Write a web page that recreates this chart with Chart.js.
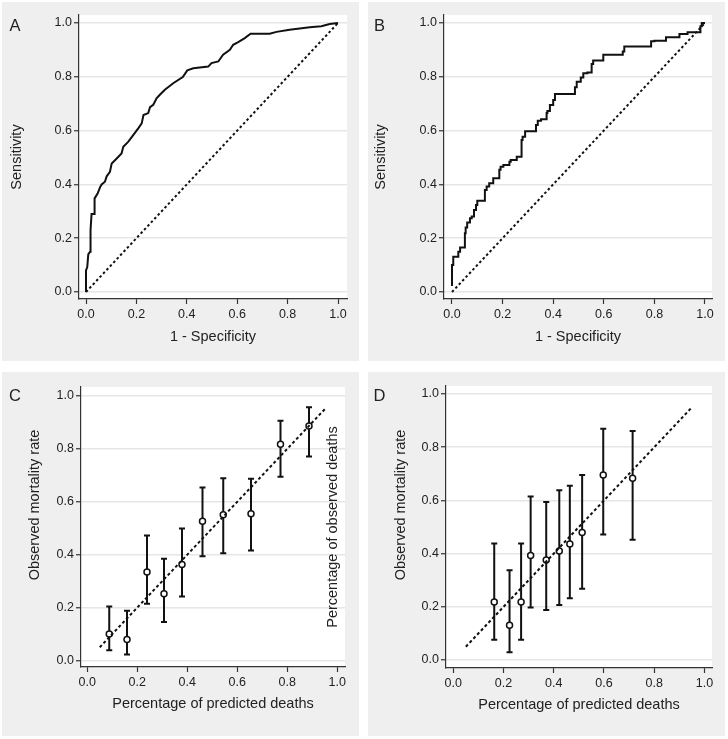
<!DOCTYPE html>
<html>
<head>
<meta charset="utf-8">
<script src="https://cdn.jsdelivr.net/npm/chart.js@4"></script>
<style>
  body { margin: 0; background: #fff; width: 728px; height: 739px; position: relative; overflow: hidden; }
  canvas { position: absolute; background: #efefef; }
</style>
</head>
<body>
<canvas id="panelA" width="357" height="359" style="left:2px;top:2px"></canvas>
<canvas id="panelB" width="357" height="359" style="left:368px;top:2px"></canvas>
<canvas id="panelC" width="357" height="364" style="left:2px;top:372px"></canvas>
<canvas id="panelD" width="357" height="364" style="left:368px;top:372px"></canvas>
<script>
const tickValues = [0, 0.2, 0.4, 0.6, 0.8, 1.0];

// ROC curve A (1 - specificity, sensitivity)
const rocAx = [0, 0, 0.005, 0.009, 0.016, 0.018, 0.022, 0.033, 0.034, 0.046, 0.056, 0.062, 0.075, 0.082, 0.095, 0.102, 0.115, 0.141, 0.148, 0.168, 0.188, 0.208, 0.221, 0.228, 0.247, 0.254, 0.267, 0.28, 0.293, 0.313, 0.346, 0.384, 0.402, 0.426, 0.485, 0.498, 0.525, 0.544, 0.571, 0.584, 0.604, 0.63, 0.653, 0.729, 0.756, 0.808, 0.888, 0.934, 0.967, 1.0];
const rocAy = [0, 0.08, 0.093, 0.14, 0.15, 0.23, 0.29, 0.29, 0.348, 0.366, 0.39, 0.40, 0.41, 0.43, 0.447, 0.478, 0.49, 0.515, 0.54, 0.559, 0.584, 0.609, 0.627, 0.658, 0.665, 0.687, 0.696, 0.72, 0.733, 0.752, 0.776, 0.799, 0.824, 0.832, 0.838, 0.851, 0.857, 0.882, 0.9, 0.919, 0.929, 0.944, 0.96, 0.96, 0.967, 0.975, 0.984, 0.988, 0.996, 1.0];

// ROC curve B
const rocBx = [0, 0, 0.005, 0.005, 0.025, 0.032, 0.035, 0.051, 0.054, 0.06, 0.071, 0.078, 0.087, 0.095, 0.1, 0.104, 0.13, 0.137, 0.147, 0.15, 0.163, 0.166, 0.187, 0.192, 0.203, 0.227, 0.232, 0.256, 0.258, 0.275, 0.279, 0.289, 0.308, 0.332, 0.339, 0.352, 0.374, 0.377, 0.387, 0.4, 0.407, 0.416, 0.486, 0.493, 0.509, 0.519, 0.535, 0.552, 0.558, 0.572, 0.598, 0.607, 0.675, 0.681, 0.7, 0.787, 0.8, 0.846, 0.859, 0.899, 0.931, 0.971, 0.982, 0.987, 1];
const rocBy = [0.022, 0.1, 0.1, 0.131, 0.131, 0.15, 0.165, 0.165, 0.218, 0.24, 0.258, 0.274, 0.281, 0.305, 0.323, 0.339, 0.339, 0.379, 0.392, 0.404, 0.404, 0.423, 0.423, 0.454, 0.466, 0.472, 0.484, 0.491, 0.503, 0.503, 0.565, 0.577, 0.598, 0.598, 0.621, 0.637, 0.642, 0.665, 0.673, 0.695, 0.714, 0.736, 0.736, 0.761, 0.782, 0.797, 0.813, 0.816, 0.848, 0.861, 0.861, 0.882, 0.882, 0.894, 0.913, 0.913, 0.932, 0.934, 0.947, 0.947, 0.959, 0.966, 0.966, 0.988, 1];

// chance line for ROC, reference line for calibration
const diagX = [0, 1];
const diagY = [0, 1];
const refX = [0.05, 0.95];
const refY = [0.05, 0.95];

// calibration C: predicted, observed, CI low, CI high
const calCx = [0.088, 0.159, 0.239, 0.307, 0.379, 0.461, 0.544, 0.655, 0.773, 0.887];
const calCy = [0.100, 0.079, 0.335, 0.252, 0.363, 0.526, 0.551, 0.555, 0.818, 0.887];
const calClo = [0.039, 0.023, 0.215, 0.146, 0.242, 0.394, 0.405, 0.416, 0.695, 0.771];
const calChi = [0.204, 0.188, 0.473, 0.385, 0.499, 0.654, 0.689, 0.687, 0.906, 0.957];

// calibration D
const calDx = [0.163, 0.224, 0.270, 0.308, 0.370, 0.422, 0.464, 0.513, 0.597, 0.714];
const calDy = [0.218, 0.131, 0.218, 0.393, 0.376, 0.410, 0.436, 0.479, 0.695, 0.683];
const calDlo = [0.076, 0.029, 0.076, 0.197, 0.188, 0.207, 0.232, 0.268, 0.472, 0.452];
const calDhi = [0.438, 0.337, 0.438, 0.615, 0.594, 0.638, 0.655, 0.695, 0.869, 0.861];

const FONT = '"Liberation Sans", Arial, Helvetica, sans-serif';
const textColor = '#222';
const axisColor = '#333';
const lineColor = '#111';

const pts = (xs, ys) => xs.map((x, i) => ({ x: x, y: ys[i] }));

// white plot region
const plotBg = {
  id: 'plotBg',
  beforeDraw(chart) {
    const { ctx, chartArea: a } = chart;
    ctx.save();
    ctx.fillStyle = '#fff';
    ctx.fillRect(a.left, a.top, a.right - a.left, a.bottom - a.top);
    ctx.restore();
  }
};

function makeErrorBars(xs, lo, hi) {
  return {
    id: 'errorBars',
    beforeDatasetsDraw(chart) {
      const { ctx, scales: { x, y } } = chart;
      ctx.save();
      ctx.strokeStyle = lineColor;
      ctx.lineWidth = 2;
      xs.forEach((v, i) => {
        const px = x.getPixelForValue(v);
        const top = y.getPixelForValue(hi[i]);
        const bot = y.getPixelForValue(lo[i]);
        ctx.beginPath();
        ctx.moveTo(px, top); ctx.lineTo(px, bot);
        ctx.moveTo(px - 3, top); ctx.lineTo(px + 3, top);
        ctx.moveTo(px - 3, bot); ctx.lineTo(px + 3, bot);
        ctx.stroke();
      });
      ctx.restore();
    }
  };
}

function makeLabels(items) {
  return {
    id: 'panelText',
    afterDraw(chart) {
      const ctx = chart.ctx;
      items.forEach(t => {
        ctx.save();
        ctx.translate(t.x, t.y);
        ctx.rotate(t.rot || 0);
        ctx.font = t.size + 'px ' + FONT;
        ctx.fillStyle = textColor;
        ctx.textAlign = 'center';
        ctx.textBaseline = 'middle';
        ctx.fillText(t.text, 0, 0);
        ctx.restore();
      });
    }
  };
}

function makePanel(id, datasets, s, extraPlugins) {
  new Chart(document.getElementById(id), {
    type: 'scatter',
    data: { datasets: datasets },
    options: {
      responsive: false,
      animation: false,
      layout: { padding: { left: 0, right: s.padR, top: s.padT, bottom: 0 } },
      plugins: { legend: { display: false }, tooltip: { enabled: false } },
      scales: {
        x: {
          type: 'linear', min: s.xMin, max: s.xMax,
          afterBuildTicks: axis => { axis.ticks = tickValues.map(v => ({ value: v })); },
          afterFit: axis => { axis.height = s.xAxisH; },
          grid: { drawOnChartArea: false, drawTicks: true, tickLength: 5, tickColor: axisColor, tickWidth: 1.2 },
          border: { display: true, color: axisColor, width: 1.2 },
          ticks: { font: { family: FONT, size: 12.5 }, color: textColor, padding: 3, maxRotation: 0,
                   callback: v => Number(v).toFixed(1) },
          title: { display: true, text: s.xTitle, font: { family: FONT, size: 14.5 }, color: textColor,
                   padding: { top: 0, bottom: s.xTitlePad } }
        },
        y: {
          type: 'linear', min: s.yMin, max: s.yMax,
          afterBuildTicks: axis => { axis.ticks = tickValues.map(v => ({ value: v })); },
          afterFit: axis => { axis.width = s.yAxisW; },
          grid: { color: '#e6e6e6', lineWidth: 1.5, drawTicks: true, tickLength: 5, tickColor: axisColor, tickWidth: 1.2 },
          border: { display: true, color: axisColor, width: 1.2 },
          ticks: { font: { family: FONT, size: 12.5 }, color: textColor, padding: 2,
                   callback: v => Number(v).toFixed(1) },
          title: { display: !!s.yTitle, text: s.yTitle || '', font: { family: FONT, size: 14.5 }, color: textColor,
                   padding: { top: s.yTitlePad || 0, bottom: 0 } }
        }
      }
    },
    plugins: [plotBg].concat(extraPlugins)
  });
}

const rocLine = (xs, ys, stepped) => ({
  data: pts(xs, ys), showLine: true, borderColor: lineColor, borderWidth: 2,
  pointRadius: 0, tension: 0, stepped: stepped || false
});
const dotLine = (xs, ys, dash) => ({
  data: pts(xs, ys), showLine: true, borderColor: lineColor, borderWidth: 2,
  borderDash: dash, pointRadius: 0
});
const circles = (xs, ys) => ({
  data: pts(xs, ys), showLine: false, pointRadius: 3, pointBorderWidth: 1.5,
  pointBackgroundColor: '#fff', pointBorderColor: lineColor
});

makePanel('panelA', [dotLine(diagX, diagY, [2.5, 2.5]), rocLine(rocAx, rocAy)], {
  padR: 12, padT: 13, xAxisH: 62, yAxisW: 77,
  xMin: -0.0278, xMax: 1.0357, yMin: -0.026, yMax: 1.0297,
  xTitle: '1 - Specificity', xTitlePad: 15.3, yTitle: 'Sensitivity', yTitlePad: 6
}, [makeLabels([{ text: 'A', x: 13, y: 24, size: 16.5 }])]);

makePanel('panelB', [dotLine(diagX, diagY, [2.5, 2.5]), rocLine(rocBx, rocBy, 'after')], {
  padR: 13, padT: 13, xAxisH: 62, yAxisW: 76,
  xMin: -0.0316, xMax: 1.0277, yMin: -0.026, yMax: 1.0297,
  xTitle: '1 - Specificity', xTitlePad: 15.3, yTitle: 'Sensitivity', yTitlePad: 4.5
}, [makeLabels([{ text: 'B', x: 11.5, y: 24.5, size: 16.5 }])]);

makePanel('panelC', [dotLine(refX, refY, [3, 2.5]), circles(calCx, calCy)], {
  padR: 14, padT: 15, xAxisH: 69, yAxisW: 79,
  xMin: -0.025, xMax: 1.031, yMin: -0.0246, yMax: 1.034,
  xTitle: 'Percentage of predicted deaths', xTitlePad: 23
}, [makeErrorBars(calCx, calClo, calChi), makeLabels([
  { text: 'C', x: 13, y: 24.5, size: 16.5 },
  { text: 'Observed mortality rate', x: 33, y: 133, size: 14.5, rot: -Math.PI / 2 },
  { text: 'Percentage of observed deaths', x: 331, y: 155, size: 14.5, rot: -Math.PI / 2 }
])]);

makePanel('panelD', [dotLine(refX, refY, [3, 2.5]), circles(calDx, calDy)], {
  padR: 13, padT: 14, xAxisH: 68, yAxisW: 78,
  xMin: -0.029, xMax: 1.03, yMin: -0.030, yMax: 1.030,
  xTitle: 'Percentage of predicted deaths', xTitlePad: 22
}, [makeErrorBars(calDx, calDlo, calDhi), makeLabels([
  { text: 'D', x: 11.5, y: 24.5, size: 16.5 },
  { text: 'Observed mortality rate', x: 32.5, y: 133, size: 14.5, rot: -Math.PI / 2 }
])]);
</script>
</body>
</html>
